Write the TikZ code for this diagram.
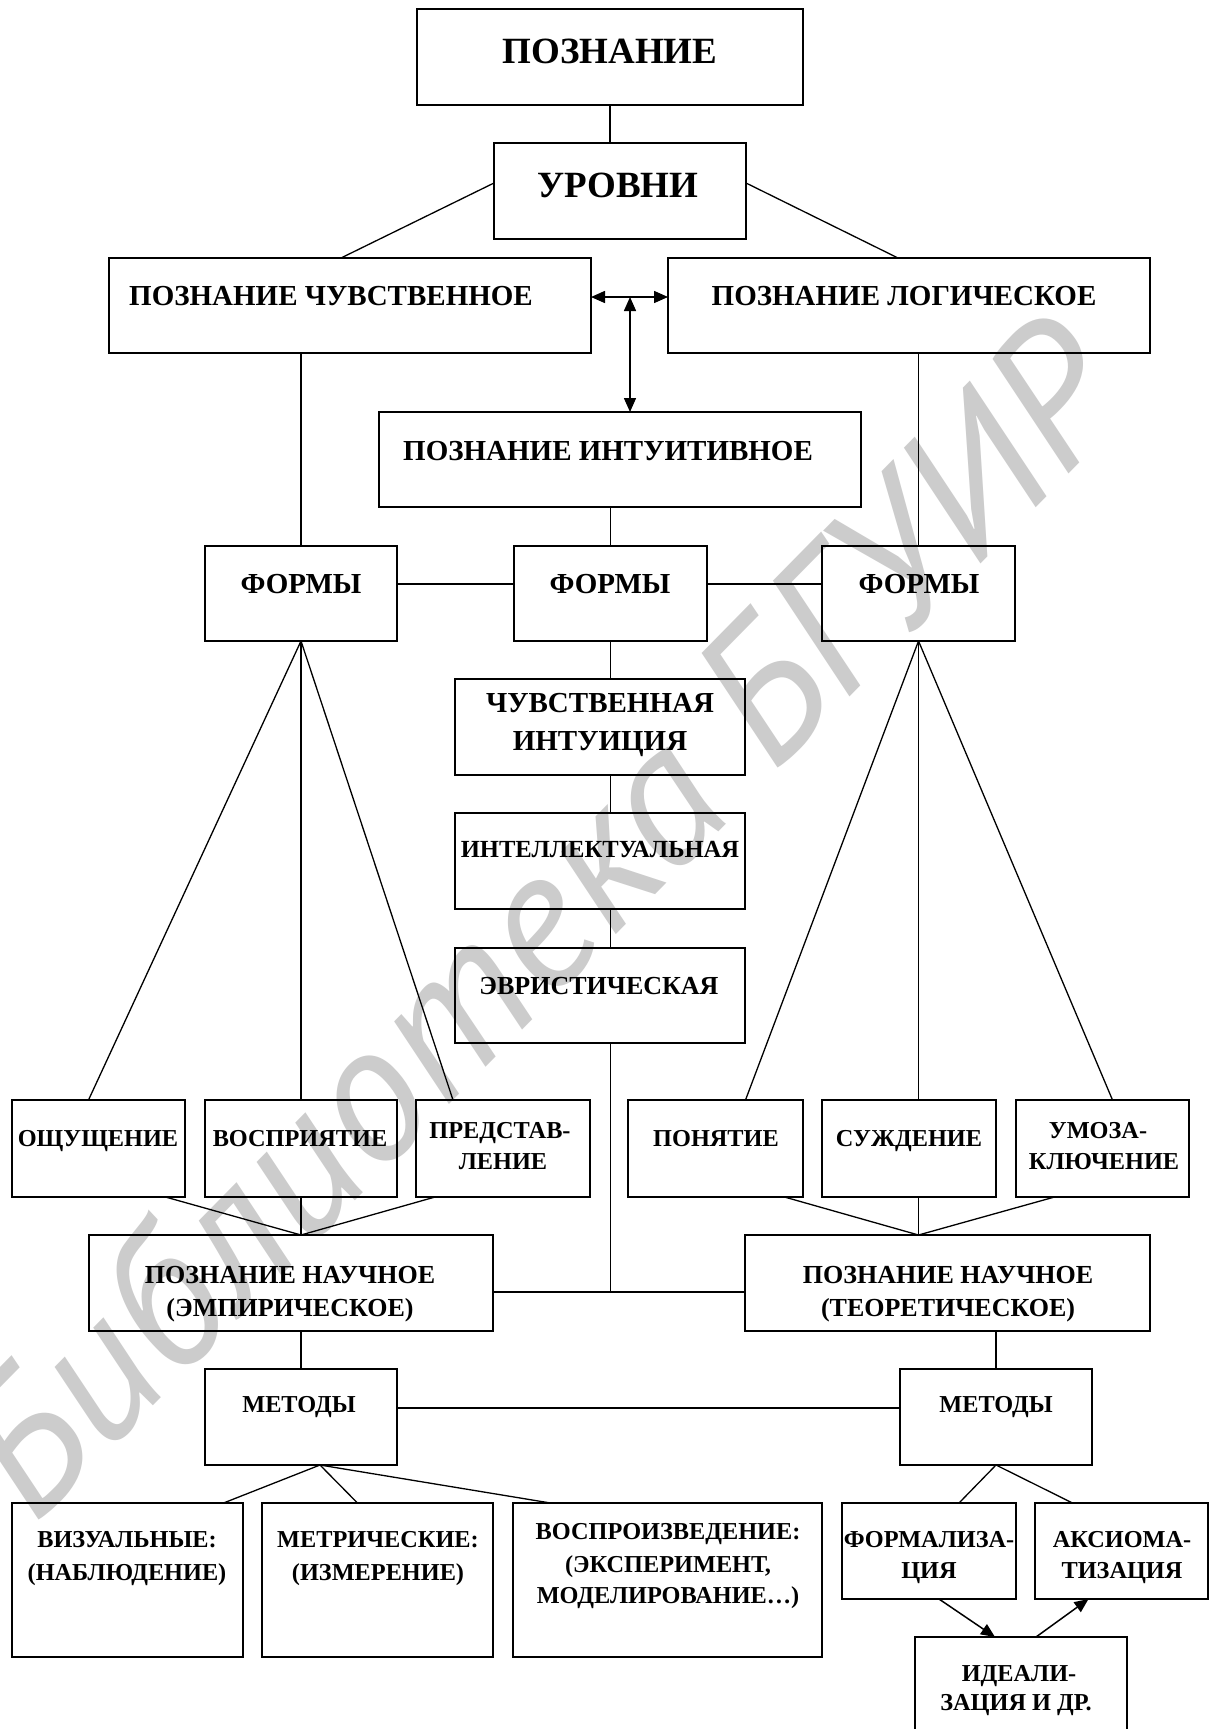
\documentclass[tikz,border=0pt]{standalone}
\usepackage{fontspec}
\setmainfont{Liberation Serif}
\newfontfamily\wmfont{PT Sans}
\usetikzlibrary{arrows.meta,calc}
\newcommand\bx[5]{\node[box,minimum width={(#4-#2)*1pt},minimum height={(#5-#3)*1pt}] (#1) at ({(#2+#4)/2},{(#3+#5)/2}) {};}
\begin{document}
\begin{tikzpicture}[x=1pt,y=-1pt,
  box/.style={draw,line width=2.2pt,inner sep=0pt,outer sep=0pt,rectangle},
  lbl/.style={anchor=base,inner sep=0pt,outer sep=0pt},
  fbig/.style={font=\fontsize{37}{42}\selectfont\bfseries},
  fa/.style={font=\fontsize{29}{34}\selectfont\bfseries},
  fb/.style={font=\fontsize{26}{30}\selectfont\bfseries},
  fbs/.style={font=\fontsize{24.6}{29}\selectfont\bfseries},
  fc/.style={font=\fontsize{24.3}{29}\selectfont\bfseries},
  conn/.style={line width=1.3pt},
  thick conn/.style={line width=2pt},
  dbl/.style={line width=1.5pt,{Triangle[length=14pt,width=12pt]}-{Triangle[length=14pt,width=12pt]}},
  arr/.style={line width=1.5pt,-{Triangle[length=14pt,width=12pt]}},
  wm/.style={text=black!20,font=\fontsize{194}{200}\selectfont\wmfont\itshape,inner sep=0pt}]
\useasboundingbox (0,0) rectangle (1210,1729);
\fill[white] (0,0) rectangle (1210,1729);
% watermark
\node[wm,rotate=45.5] (wm) at (536,918) {Библиотека БГУИР};
% boxes
\bx{top}{417}{9}{803}{105}
\bx{urov}{494}{143}{746}{239}
\bx{chuv}{109}{258}{591}{353}
\bx{log}{668}{258}{1150}{353}
\bx{intu}{379}{412}{861}{507}
\bx{f1}{205}{546}{397}{641}
\bx{f2}{514}{546}{707}{641}
\bx{f3}{822}{546}{1015}{641}
\bx{chin}{455}{679}{745}{775}
\bx{intel}{455}{813}{745}{909}
\bx{evr}{455}{948}{745}{1043}
\bx{osh}{12}{1100}{185}{1197}
\bx{vos}{205}{1100}{397}{1197}
\bx{pred}{416}{1100}{590}{1197}
\bx{pon}{628}{1100}{803}{1197}
\bx{suz}{822}{1100}{996}{1197}
\bx{umo}{1016}{1100}{1189}{1197}
\bx{nau1}{89}{1235}{493}{1331}
\bx{nau2}{745}{1235}{1150}{1331}
\bx{met1}{205}{1369}{397}{1465}
\bx{met2}{900}{1369}{1092}{1465}
\bx{vis}{12}{1503}{243}{1657}
\bx{metr}{262}{1503}{493}{1657}
\bx{vosp}{513}{1503}{822}{1657}
\bx{form}{842}{1503}{1016}{1599}
\bx{aks}{1035}{1503}{1208}{1599}
\bx{ideal}{915}{1637}{1127}{1770}
% texts
\node[lbl,fbig] (t-top) at (610,63) {ПОЗНАНИЕ};
\node[lbl,fbig] (t-urov) at (618,197) {УРОВНИ};
\node[lbl,fa] (t-chuv) at (331,305) {ПОЗНАНИЕ ЧУВСТВЕННОЕ};
\node[lbl,fa] (t-log) at (904,305) {ПОЗНАНИЕ ЛОГИЧЕСКОЕ};
\node[lbl,fa] (t-intu) at (608,460) {ПОЗНАНИЕ ИНТУИТИВНОЕ};
\node[lbl,fa] (t-f1) at (301,593) {ФОРМЫ};
\node[lbl,fa] (t-f2) at (610,593) {ФОРМЫ};
\node[lbl,fa] (t-f3) at (919,593) {ФОРМЫ};
\node[lbl,fa] (t-chin1) at (600,712) {ЧУВСТВЕННАЯ};
\node[lbl,fa] (t-chin2) at (600,750) {ИНТУИЦИЯ};
\node[lbl,fbs] (t-intel) at (600,857) {ИНТЕЛЛЕКТУАЛЬНАЯ};
\node[lbl,fb] (t-evr) at (599,994) {ЭВРИСТИЧЕСКАЯ};
\node[lbl,fc] (t-osh) at (98,1146) {ОЩУЩЕНИЕ};
\node[lbl,fc] (t-vos) at (300,1146) {ВОСПРИЯТИЕ};
\node[lbl,fc] (t-pred1) at (500,1138) {ПРЕДСТАВ-};
\node[lbl,fc] (t-pred2) at (503,1169) {ЛЕНИЕ};
\node[lbl,fc] (t-pon) at (716,1146) {ПОНЯТИЕ};
\node[lbl,fc] (t-suz) at (909,1146) {СУЖДЕНИЕ};
\node[lbl,fc] (t-umo1) at (1098,1138) {УМОЗА-};
\node[lbl,fc] (t-umo2) at (1104,1169) {КЛЮЧЕНИЕ};
\node[lbl,fb] (t-nau11) at (290,1283) {ПОЗНАНИЕ НАУЧНОЕ};
\node[lbl,fb] (t-nau12) at (290,1316) {(ЭМПИРИЧЕСКОЕ)};
\node[lbl,fb] (t-nau21) at (948,1283) {ПОЗНАНИЕ НАУЧНОЕ};
\node[lbl,fb] (t-nau22) at (948,1316) {(ТЕОРЕТИЧЕСКОЕ)};
\node[lbl,fc] (t-met1) at (299,1412) {МЕТОДЫ};
\node[lbl,fc] (t-met2) at (996,1412) {МЕТОДЫ};
\node[lbl,fc] (t-vis1) at (127,1547) {ВИЗУАЛЬНЫЕ:};
\node[lbl,fc] (t-vis2) at (127,1580) {(НАБЛЮДЕНИЕ)};
\node[lbl,fc] (t-metr1) at (378,1547) {МЕТРИЧЕСКИЕ:};
\node[lbl,fc] (t-metr2) at (378,1580) {(ИЗМЕРЕНИЕ)};
\node[lbl,fc] (t-vosp1) at (668,1539) {ВОСПРОИЗВЕДЕНИЕ:};
\node[lbl,fc] (t-vosp2) at (668,1572) {(ЭКСПЕРИМЕНТ,};
\node[lbl,fc] (t-vosp3) at (668,1603) {МОДЕЛИРОВАНИЕ…)};
\node[lbl,fc] (t-form1) at (929,1547) {ФОРМАЛИЗА-};
\node[lbl,fc] (t-form2) at (929,1578) {ЦИЯ};
\node[lbl,fc] (t-aks1) at (1122,1547) {АКСИОМА-};
\node[lbl,fc] (t-aks2) at (1122,1578) {ТИЗАЦИЯ};
\node[lbl,fc] (t-id1) at (1019,1681) {ИДЕАЛИ-};
\node[lbl,fc] (t-id2) at (1016,1710) {ЗАЦИЯ И ДР.};
% coordinates
\coordinate (ha) at ($(chuv.north east)+(39,39)$);
\coordinate (jn) at ($(nau1.north east)+(0,57)$);
\coordinate (n1top) at (f1.south |- nau1.north);
\coordinate (n2top) at (f3.south |- nau2.north);
% connectors
\draw[conn] (top.south) -- (top.south |- urov.north);
\draw[conn] ($(urov.north west)+(0,40)$) -- ($(chuv.north west)+(232,0)$);
\draw[conn] ($(urov.north east)+(0,40)$) -- ($(log.north west)+(230,0)$);
\draw[dbl] ($(chuv.north east)+(0,39)$) -- ($(log.north west)+(0,39)$);
\draw[dbl] (ha) -- (ha |- intu.north);
\draw[conn] (f1.north |- chuv.south) -- (f1.north);
\draw[conn] (f3.north |- log.south) -- (f3.north);
\draw[conn] (f2.north |- intu.south) -- (f2.north);
\draw[thick conn] ($(f1.north east)+(0,38)$) -- ($(f2.north west)+(0,38)$);
\draw[thick conn] ($(f2.north east)+(0,38)$) -- ($(f3.north west)+(0,38)$);
\draw[conn] (f2.south) -- (f2.south |- chin.north);
\draw[conn] (f2.south |- chin.south) -- (f2.south |- intel.north);
\draw[conn] (f2.south |- intel.south) -- (f2.south |- evr.north);
\draw[conn] (f2.south |- evr.south) -- (f2.south |- jn);
\draw[thick conn] (jn) -- (jn -| nau2.west);
% forms -> items
\draw[conn] (f1.south) -- ($(osh.north)+(-10,0)$);
\draw[conn] (f1.south) -- (f1.south |- vos.north);
\draw[conn] (f1.south) -- ($(pred.north)+(-50,0)$);
\draw[conn] (f3.south) -- ($(pon.north)+(30,0)$);
\draw[conn] (f3.south) -- (f3.south |- suz.north);
\draw[conn] (f3.south) -- ($(umo.north)+(10,0)$);
% items -> scientific
\draw[conn] ($(osh.south)+(67,0)$) -- (n1top);
\draw[conn] (f1.south |- vos.south) -- (n1top);
\draw[conn] ($(pred.south)+(-68,0)$) -- (n1top);
\draw[conn] ($(pon.south)+(69,0)$) -- (n2top);
\draw[conn] (f3.south |- suz.south) -- (n2top);
\draw[conn] ($(umo.south)+(-48,0)$) -- (n2top);
% scientific -> methods
\draw[conn] (met1.north |- nau1.south) -- (met1.north);
\draw[conn] (met2.north |- nau2.south) -- (met2.north);
\draw[thick conn] ($(met1.north east)+(0,39)$) -- ($(met2.north west)+(0,39)$);
% methods -> kinds
\draw[conn] ($(met1.south)+(19,0)$) -- ($(vis.north)+(96,0)$);
\draw[conn] ($(met1.south)+(19,0)$) -- ($(metr.north)+(-20,0)$);
\draw[conn] ($(met1.south)+(19,0)$) -- ($(vosp.north)+(-117,0)$);
\draw[conn] (met2.south) -- ($(form.north)+(30,0)$);
\draw[conn] (met2.south) -- ($(aks.north)+(-49,0)$);
\draw[arr] ($(form.south)+(10,0)$) -- ($(ideal.north)+(-26,0)$);
\draw[arr] ($(ideal.north)+(15,0)$) -- ($(aks.south)+(-33,0)$);
\end{tikzpicture}
\end{document}
